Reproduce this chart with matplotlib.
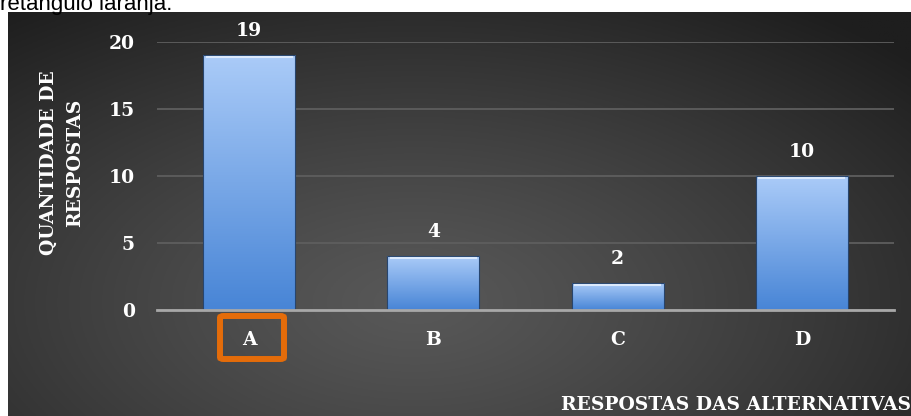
import matplotlib.pyplot as plt
import numpy as np
from matplotlib.patches import FancyBboxPatch

# dados do grafico
categorias = ['A', 'B', 'C', 'D']
respostas = [19, 4, 2, 10]
yticks = [0, 5, 10, 15, 20]

W, H = 912, 416
fig = plt.figure(figsize=(W / 100, H / 100), dpi=100)
fig.patch.set_facecolor('white')

serif = ['DejaVu Serif']
fs = 13.5

# texto do documento, cortado no topo
fig.text(0, 1 - 10 / H, 'retângulo laranja.', fontsize=16, family='Liberation Sans',
         ha='left', va='baseline', color='black')

# fundo escuro com gradiente radial
bg = fig.add_axes([8 / W, 0, 1 - 8 / W, 404 / H])
bg.set_axis_off()
yy, xx = np.mgrid[0:1:200j, 0:1:400j]
r = np.sqrt(((xx - 0.45) / 0.75) ** 2 + ((yy - 0.72) / 0.9) ** 2)
r = np.clip(r, 0, 1)
v = (0x58 - (0x58 - 0x1e) * r ** 1.2) / 255
bg.imshow(np.dstack([v, v, v]), aspect='auto', extent=[0, 1, 0, 1], origin='upper')
bg.set_xlim(0, 1); bg.set_ylim(0, 1)

# eixo do grafico
ax = fig.add_axes([157 / W, 106 / H, (894 - 157) / W, (310 - 42) / H])
ax.patch.set_alpha(0)
x = np.arange(len(categorias))
bars = ax.bar(x, respostas, width=0.5, color='none', edgecolor='#27456e', lw=0.8, zorder=3)

grad = np.linspace(0, 1, 100).reshape(-1, 1)
top = np.array([0xaa, 0xcb, 0xf8]) / 255
bot = np.array([0x48, 0x85, 0xd6]) / 255
img = top + (bot - top) * grad[..., None]
for b in bars:
    x0, w, h = b.get_x(), b.get_width(), b.get_height()
    im = ax.imshow(img, aspect='auto', extent=[x0, x0 + w, 0, h], origin='upper', zorder=2)
    im.set_clip_path(b)
    # brilho no topo
    ax.plot([x0 + 0.02, x0 + w - 0.02], [h - 0.12, h - 0.12], color='#dbe9fc', lw=1.5, zorder=3)

for xi, val in zip(x, respostas):
    ax.annotate(str(val), (xi, val), xytext=(0, 11), textcoords='offset points',
                ha='center', va='bottom', color='white', fontsize=fs,
                fontweight='bold', family=serif)

ax.set_xlim(-0.5, len(categorias) - 0.5)
ax.set_ylim(0, 20)
ax.set_yticks(yticks)
ax.set_xticks(x)
ax.set_xticklabels(categorias)
ax.yaxis.grid(True, color='#5e5e5e', lw=1.3, zorder=0)
ax.set_axisbelow(True)
for s in ['top', 'right', 'left']:
    ax.spines[s].set_visible(False)
ax.spines['bottom'].set_color('#a8a8a8')
ax.spines['bottom'].set_linewidth(2)
ax.spines['bottom'].set_zorder(4)
ax.tick_params(axis='y', length=0, pad=16, labelcolor='white', labelsize=fs)
ax.tick_params(axis='x', length=0, pad=15, labelcolor='white', labelsize=fs)
for lab in ax.get_xticklabels() + ax.get_yticklabels():
    lab.set_fontweight('bold')
    lab.set_family(serif)

# titulos dos eixos
fig.text(62 / W, 1 - 163 / H, 'QUANTIDADE DE\nRESPOSTAS', rotation=90, ha='center', va='center',
         multialignment='center', linespacing=1.55, color='white', fontsize=fs,
         fontweight='bold', family=serif)
fig.text(561 / W, 1 - 405 / H, 'RESPOSTAS DAS ALTERNATIVAS', ha='left', va='center',
         color='white', fontsize=fs, fontweight='bold', family=serif)

# retangulo laranja em volta do A
box = FancyBboxPatch((220 / W, 1 - 359 / H), 64 / W, 43 / H,
                     boxstyle='round,pad=0,rounding_size=0.004', transform=fig.transFigure,
                     fill=False, edgecolor='#e46c0a', lw=4.3, zorder=10)
fig.patches.append(box)

fig.savefig('out.png', dpi=100)
